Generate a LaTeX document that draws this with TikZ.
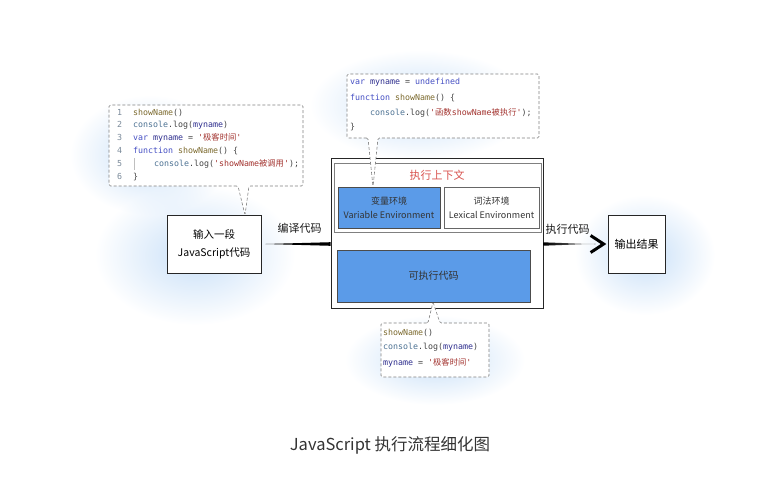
\documentclass[tikz,border=0pt]{standalone}
\usepackage{fontspec}
\setmainfont{Noto Sans CJK SC}
\newfontfamily\cjk{Noto Sans CJK SC}
\setmonofont{DejaVu Sans Mono}
\usetikzlibrary{arrows.meta,fadings,calc}
\definecolor{jsblue}{HTML}{5B9BE8}
\definecolor{glowc}{HTML}{C9E0F8}
\definecolor{ckwc}{HTML}{4650C4}
\definecolor{cfnc}{HTML}{7C6A2E}
\definecolor{cobc}{HTML}{4E7394}
\definecolor{cidc}{HTML}{2E2E8E}
\definecolor{cstc}{HTML}{A3332F}
\definecolor{cpun}{HTML}{444444}
\definecolor{lnumc}{HTML}{7A8A9A}
\definecolor{ctxred}{HTML}{D9534F}
\newcommand\ckw[1]{\textcolor{ckwc}{#1}}
\newcommand\cfn[1]{\textcolor{cfnc}{#1}}
\newcommand\cob[1]{\textcolor{cobc}{#1}}
\newcommand\cid[1]{\textcolor{cidc}{#1}}
\newcommand\cst[1]{\textcolor{cstc}{#1}}
\tikzfading[name=glowfade, inner color=transparent!0, outer color=transparent!100]
\tikzset{
  glow/.style={fill=glowc, path fading=glowfade},
  callout/.style={draw=black!50, fill=white, line width=0.6pt, dash pattern=on 3pt off 2pt, rounded corners=1.5pt},
  plainbox/.style={draw=black!85, fill=white, line width=0.8pt, inner sep=0pt},
  bluebox/.style={draw=black!70, fill=jsblue, line width=0.6pt, inner sep=0pt, align=center, text=black!80},
  lexbox/.style={draw=black!60, fill=white, line width=0.6pt, inner sep=0pt, align=center, text=black!80},
  code/.style={anchor=base west, inner sep=0pt, font=\ttfamily\fontsize{8.3}{10}\selectfont, text=cpun},
  lnum/.style={code, text=lnumc},
  lbl/.style={inner sep=0pt, font=\fontsize{11}{13}\selectfont, text=black!90}
}
\begin{document}
\begin{tikzpicture}[x=1pt,y=-1pt]
\useasboundingbox (0,0) rectangle (761,480);
% glows
\fill[glow] (195,255) ellipse (100 and 70);
\fill[glow] (150,155) ellipse (80 and 60);
\fill[glow] (420,105) ellipse (110 and 55);
\fill[glow] (645,255) ellipse (70 and 60);
\fill[glow] (435,360) ellipse (90 and 45);

% main boxes
\node[plainbox, minimum width=94pt, minimum height=58pt, align=center, font=\fontsize{10.5}{18}\selectfont] (in) at (214,244) {输入一段\\JavaScript代码};
\node[plainbox, minimum width=212pt, minimum height=150pt] (outer) at (437,233) {};
\node[plainbox, draw=black!50, line width=0.6pt, minimum width=207pt, minimum height=69pt] (ctx) at (437.5,197.5) {};
\node[inner sep=0pt, text=ctxred, font=\fontsize{11}{13}\selectfont] (ctxt) at (437,175) {执行上下文};
\node[bluebox, minimum width=102pt, minimum height=41pt, font=\fontsize{9}{14.5}\selectfont] (venv) at (389,207.5) {变量环境\\Variable Environment};
\node[lexbox, minimum width=95pt, minimum height=41pt, font=\fontsize{9}{14.5}\selectfont] (lenv) at (491.5,207.5) {词法环境\\Lexical Environment};
\node[bluebox, minimum width=193pt, minimum height=52pt, font=\fontsize{10}{12}\selectfont] (exec) at (433.5,276) {可执行代码};
\node[plainbox, minimum width=57pt, minimum height=58pt, font=\fontsize{11}{13}\selectfont] (out) at (636.5,244) {输出结果};

% arrows
\fill[black] ([xshift=4pt]in.east) -- ([yshift=-1.8pt]in.east -| outer.west) -- ([yshift=1.8pt]in.east -| outer.west) -- cycle;
\node[lbl] (lbl1) at (299.5,228) {编译代码};
\coordinate (tipR) at ($(out.west)+(-4,0)$);
\shade[left color=black, right color=black!45] ([yshift=1.7pt]out.west -| outer.east) -- ($(tipR)+(-8,0.3)$) -- ($(tipR)+(-8,-0.3)$) -- ([yshift=-1.7pt]out.west -| outer.east) -- cycle;
\draw[line width=3pt, line join=miter] ($(tipR)+(-13,-8.5)$) -- (tipR) -- ($(tipR)+(-13,8.5)$);
\node[lbl] (lbl2) at (567.5,229) {执行代码};

% left callout
\draw[callout] (238,186) -- (109,186) -- (109,105) -- (303,105) -- (303,186) -- (249,186) -- (245,215) -- cycle;
\draw[black!25, line width=0.5pt] (134.5,158) -- (134.5,170);
\node[lnum] (a1) at (117,115) {1};
\node[lnum] (a2) at (117,127.8) {2};
\node[lnum] (a3) at (117,140.6) {3};
\node[lnum] (a4) at (117,153.4) {4};
\node[lnum] (a5) at (117,166.2) {5};
\node[lnum] (a6) at (117,179) {6};
\node[code] (b1) at (133,115) {\cfn{showName}()};
\node[code] (b2) at (133,127.8) {\cob{console}.log(\cid{myname})};
\node[code] (b3) at (133,140.6) {\ckw{var} \cid{myname} = \cst{'{\cjk 极客时间}'}};
\node[code] (b4) at (133,153.4) {\ckw{function} \cfn{showName}() \{};
\node[code] (b5) at (154,166.2) {\cob{console}.log(\cst{'showName{\cjk 被调用}'});};
\node[code] (b6) at (133,179) {\}};

% top callout
\draw[callout] (368,138) -- (347,138) -- (347,74) -- (539,74) -- (539,138) -- (378,138) -- (373,187) -- cycle;
\node[code] (c1) at (350,84.5) {\ckw{var} \cid{myname} = \ckw{undefined}};
\node[code] (c2) at (350,100.5) {\ckw{function} \cfn{showName}() \{};
\node[code] (c3) at (370,115.5) {\cob{console}.log(\cst{'{\cjk 函数}showName{\cjk 被执行}'});};
\node[code] (c4) at (350,129.5) {\}};

% bottom callout
\draw[callout] (428,323) -- (381,323) -- (381,377) -- (489,377) -- (489,323) -- (440,323) -- (433,302) -- cycle;
\node[code] (d1) at (383,335.5) {\cfn{showName}()};
\node[code] (d2) at (383,349.5) {\cob{console}.log(\cid{myname})};
\node[code] (d3) at (383,365.5) {\cid{myname} = \cst{'{\cjk 极客时间}'}};

% caption
\node[inner sep=0pt, text=black!80, font=\fontsize{16.5}{18}\selectfont] (cap) at (390,445) {JavaScript 执行流程细化图};
\end{tikzpicture}
\end{document}
